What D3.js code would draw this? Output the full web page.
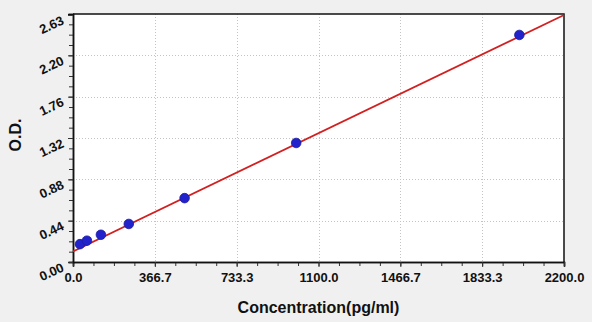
<!DOCTYPE html>
<html>
<head>
<meta charset="utf-8">
<script src="https://cdn.jsdelivr.net/npm/d3@7"></script>
<style>
  html, body { margin: 0; padding: 0; background: #f0f0f0; }
  svg { display: block; font-family: "Liberation Sans", Arial, sans-serif; }
</style>
</head>
<body>
<svg id="chart" width="592" height="322"></svg>
<script>
// standard points
const concentration = [31.25, 62.5, 125, 250, 500, 1000, 2000]
const od = [0.19, 0.227, 0.29, 0.405, 0.68, 1.267, 2.417]

// fitted line end points
const fitX = [0, 2200]
const fitY = [0.112, 2.63]

const xTicks = [0, 366.7, 733.3, 1100.0, 1466.7, 1833.3, 2200.0]
const yTicks = [0, 0.44, 0.88, 1.32, 1.76, 2.20, 2.63]

const margin = {left: 73, top: 14, right: 564, bottom: 262}

const svg = d3.select('#chart')

const x_scale = d3.scaleLinear().domain([0, 2200]).range([margin.left, margin.right])
const y_scale = d3.scaleLinear().domain([0, 2.64]).range([margin.bottom, margin.top])

// plot background
svg.append('rect')
    .attr('x', margin.left)
    .attr('y', margin.top)
    .attr('width', margin.right - margin.left)
    .attr('height', margin.bottom - margin.top)
    .attr('fill', '#fff')

// grid
const grid = svg.append('g').attr('stroke', '#c4c4c4').attr('stroke-dasharray', '1,2').attr('stroke-width', 1)
grid.selectAll('line.vx')
    .data(xTicks.slice(1, -1))
    .join('line')
    .attr('x1', d => Math.round(x_scale(d)) + 0.5)
    .attr('x2', d => Math.round(x_scale(d)) + 0.5)
    .attr('y1', margin.top)
    .attr('y2', margin.bottom)
grid.selectAll('line.hy')
    .data(yTicks.slice(1, -1))
    .join('line')
    .attr('y1', d => Math.round(y_scale(d)) + 0.5)
    .attr('y2', d => Math.round(y_scale(d)) + 0.5)
    .attr('x1', margin.left)
    .attr('x2', margin.right)

// minor ticks
const xMinor = d3.range(0, 25).map(i => i * 2200 / 24)
const yMinor = d3.range(0, 25).map(i => i * 2.64 / 24)

const xAxis = svg.append('g').attr('transform', `translate(0, ${margin.bottom})`)
xAxis.call(d3.axisBottom(x_scale).tickValues(xMinor).tickSize(4).tickFormat(''))
xAxis.append('g').call(d3.axisBottom(x_scale).tickValues(xTicks).tickSize(5).tickFormat(d3.format('.1f')))
xAxis.selectAll('text')
    .attr('y', 8)
    .attr('dy', '0.9em')
    .style('font-size', '13px')
    .style('font-weight', 'bold')
    .style('fill', '#111')

const yAxis = svg.append('g').attr('transform', `translate(${margin.left}, 0)`)
yAxis.call(d3.axisLeft(y_scale).tickValues(yMinor).tickSize(4).tickFormat(''))
yAxis.append('g').call(d3.axisLeft(y_scale).tickValues(yTicks).tickSize(5).tickFormat(d3.format('.2f')))
yAxis.selectAll('text')
    .attr('x', -10)
    .attr('y', 4)
    .attr('dy', '0.35em')
    .attr('transform', 'rotate(-25, -10, 4)')
    .style('text-anchor', 'end')
    .style('font-size', '13px')
    .style('font-weight', 'bold')
    .style('fill', '#111')

svg.selectAll('.domain').attr('stroke', '#111').attr('stroke-width', 1.5)
svg.selectAll('.tick line').attr('stroke', '#333')

// top and right border
svg.append('path')
    .attr('d', `M${margin.left},${margin.top}H${margin.right}V${margin.bottom}`)
    .attr('fill', 'none')
    .attr('stroke', '#111')
    .attr('stroke-width', 1.5)

// fitted line
svg.append('clipPath').attr('id', 'clip')
    .append('rect')
    .attr('x', margin.left).attr('y', margin.top - 2)
    .attr('width', margin.right - margin.left + 2).attr('height', margin.bottom - margin.top + 2)

svg.append('path')
    .datum(fitX.map((d, i) => [d, fitY[i]]))
    .attr('clip-path', 'url(#clip)')
    .attr('d', d3.line().x(d => x_scale(d[0])).y(d => y_scale(d[1])))
    .attr('fill', 'none')
    .attr('stroke', '#d22020')
    .attr('stroke-width', 1.8)

// points
svg.append('g').selectAll('circle')
    .data(concentration)
    .join('circle')
    .attr('cx', d => x_scale(d))
    .attr('cy', (d, i) => y_scale(od[i]))
    .attr('r', 4.8)
    .attr('fill', '#2222cc')
    .attr('stroke', '#1a1aa0')
    .attr('stroke-width', 0.8)

// titles
svg.append('text')
    .text('Concentration(pg/ml)')
    .attr('x', (margin.left + margin.right) / 2)
    .attr('y', 313)
    .style('text-anchor', 'middle')
    .style('font-size', '16px')
    .style('font-weight', 'bold')
    .style('fill', '#111')

svg.append('text')
    .text('O.D.')
    .style('text-anchor', 'middle')
    .style('font-size', '16px')
    .style('font-weight', 'bold')
    .style('fill', '#111')
    .attr('transform', `translate(21, 135)rotate(-90)`)
</script>
</body>
</html>
